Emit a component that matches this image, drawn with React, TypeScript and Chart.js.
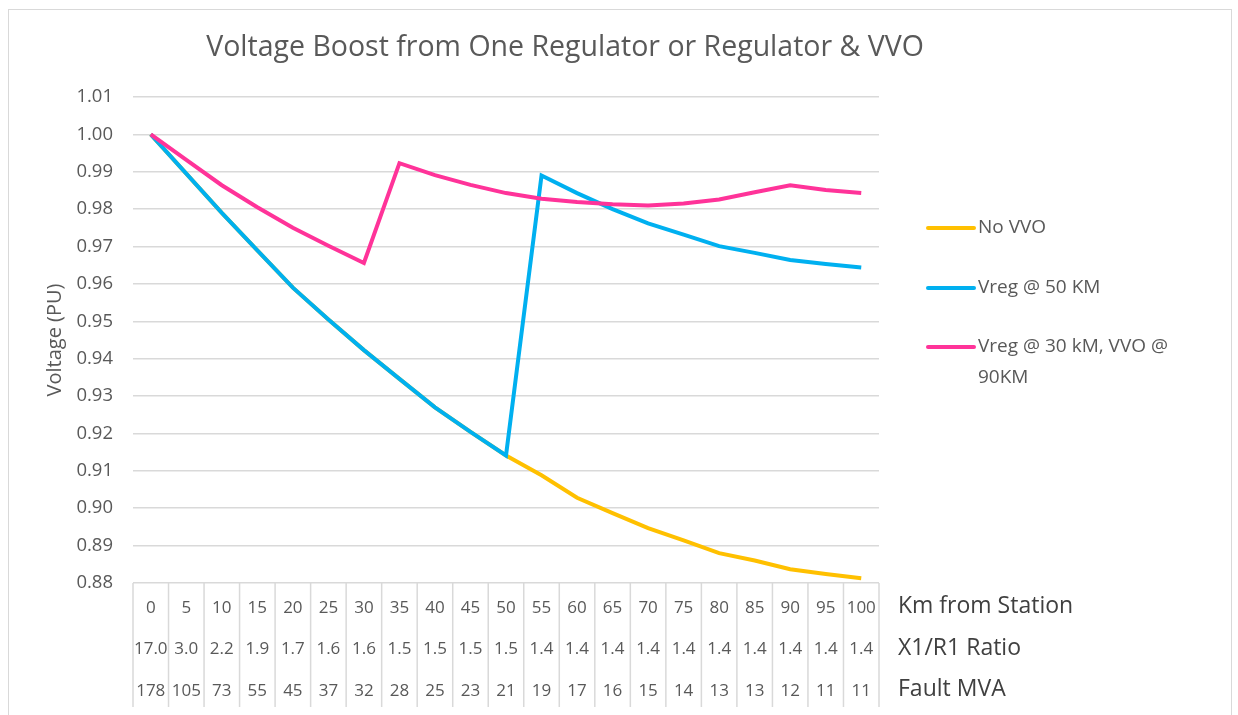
import React, { useEffect, useRef } from 'react';
import { Chart, registerables } from 'chart.js';

Chart.register(...registerables);

const kmLabels = ['0', '5', '10', '15', '20', '25', '30', '35', '40', '45', '50', '55', '60', '65', '70', '75', '80', '85', '90', '95', '100'];
const ratioLabels = ['17.0', '3.0', '2.2', '1.9', '1.7', '1.6', '1.6', '1.5', '1.5', '1.5', '1.5', '1.4', '1.4', '1.4', '1.4', '1.4', '1.4', '1.4', '1.4', '1.4', '1.4'];
const mvaLabels = ['178', '105', '73', '55', '45', '37', '32', '28', '25', '23', '21', '19', '17', '16', '15', '14', '13', '13', '12', '11', '11'];
const rowTitles = ['Km from Station', 'X1/R1 Ratio', 'Fault MVA'];

const noVvo = [1.0, 0.9895, 0.979, 0.969, 0.959, 0.9505, 0.9423, 0.9346, 0.927, 0.9204, 0.9141, 0.9088, 0.9028, 0.8987, 0.8947, 0.8914, 0.888, 0.886, 0.8837, 0.8824, 0.8813];
const vreg50 = [1.0, 0.9895, 0.979, 0.969, 0.959, 0.9505, 0.9423, 0.9346, 0.927, 0.9204, 0.9141, 0.989, 0.9843, 0.98, 0.9762, 0.9732, 0.9701, 0.9683, 0.9664, 0.9653, 0.9644];
const vreg30Vvo90 = [1.0, 0.9932, 0.9864, 0.9805, 0.975, 0.9702, 0.9656, 0.9923, 0.9891, 0.9865, 0.9843, 0.9828, 0.9819, 0.9813, 0.981, 0.9815, 0.9826, 0.9845, 0.9864, 0.9851, 0.9843];

const seriesNames = ['No VVO', 'Vreg @ 50 KM', 'Vreg @ 30 kM, VVO @ 90KM'];
const seriesColors = ['#FFC000', '#00B0F0', '#FF3399'];
const legendLines = [['No VVO'], ['Vreg @ 50 KM'], ['Vreg @ 30 kM, VVO @', '90KM']];
const titleText = 'Voltage Boost from One Regulator or Regulator & VVO';
const yTitleText = 'Voltage (PU)';

const FONT = '"Open Sans", "DejaVu Sans", sans-serif';
const TEXT = '#595959';
const GRID = '#d9d9d9';

const decorPlugin = {
  id: 'decor',
  afterDraw(chart: any) {
    const { ctx, chartArea } = chart;
    ctx.save();
    // title
    ctx.fillStyle = TEXT;
    ctx.font = `28.5px ${FONT}`;
    ctx.textAlign = 'center';
    ctx.textBaseline = 'middle';
    ctx.fillText(titleText, 565, 48);

    // data-table vertical lines
    const n = kmLabels.length;
    const w = (chartArea.right - chartArea.left) / n;
    ctx.strokeStyle = GRID;
    ctx.lineWidth = 1.5;
    for (let i = 0; i <= n; i++) {
      const x = chartArea.left + i * w;
      ctx.beginPath();
      ctx.moveTo(x, chartArea.bottom);
      ctx.lineTo(x, chartArea.bottom + 124);
      ctx.stroke();
    }

    // row titles
    ctx.fillStyle = '#404040';
    ctx.font = `23px ${FONT}`;
    ctx.textAlign = 'left';
    const rowY = [606, 648.5, 689];
    rowTitles.forEach((t, i) => ctx.fillText(t, chartArea.right + 19, rowY[i]));

    // legend
    const legY = [228, 288, 347];
    ctx.font = `19px ${FONT}`;
    ctx.lineCap = 'round';
    legendLines.forEach((lines, i) => {
      ctx.strokeStyle = seriesColors[i];
      ctx.lineWidth = 4;
      ctx.beginPath();
      ctx.moveTo(chartArea.right + 49, legY[i]);
      ctx.lineTo(chartArea.right + 95, legY[i]);
      ctx.stroke();
      ctx.fillStyle = TEXT;
      lines.forEach((l, j) => ctx.fillText(l, chartArea.right + 99, legY[i] + j * 31));
    });
    ctx.restore();
  },
};

export default function App() {
  const ref = useRef<HTMLCanvasElement | null>(null);

  useEffect(() => {
    if (!ref.current) return;
    const datasets = [noVvo, vreg50, vreg30Vvo90].map((d, i) => ({
      label: seriesNames[i],
      data: d,
      borderColor: seriesColors[i],
      backgroundColor: seriesColors[i],
      borderWidth: 4,
      pointRadius: 0,
      tension: 0,
      fill: false,
      order: 2 - i,
    }));
    const chart = new Chart(ref.current, {
      type: 'line',
      data: {
        labels: kmLabels.map((k, i) => [k, ratioLabels[i], mvaLabels[i]]),
        datasets,
      },
      plugins: [decorPlugin],
      options: {
        responsive: false,
        animation: false,
        layout: { padding: { top: 97, right: 359, bottom: 0, left: 0 } },
        plugins: {
          legend: { display: false },
          title: { display: false },
          tooltip: { enabled: false },
        },
        scales: {
          x: {
            offset: true,
            grid: { display: false },
            border: { display: false },
            ticks: {
              autoSkip: false,
              maxRotation: 0,
              padding: -4,
              color: TEXT,
              font: { family: FONT, size: 17, lineHeight: 41.5 / 17 },
            },
            afterFit: (s: any) => {
              s.height = 132;
            },
          },
          y: {
            min: 0.88,
            max: 1.01,
            grid: { color: GRID, lineWidth: 1.5, drawTicks: false },
            border: { display: false },
            ticks: {
              stepSize: 0.01,
              padding: 20,
              color: TEXT,
              font: { family: FONT, size: 18.5 },
              callback: (v: any) => Number(v).toFixed(2),
            },
            title: {
              display: true,
              text: yTitleText,
              color: TEXT,
              font: { family: FONT, size: 20 },
              padding: { top: 43, bottom: 0 },
            },
            afterFit: (s: any) => {
              s.width = 133;
            },
          },
        },
      },
    });
    return () => chart.destroy();
  }, []);

  return (
    <div style={{ position: 'absolute', left: 0, top: 0, width: 1238, height: 715, overflow: 'hidden', background: '#fff' }}>
      <div
        style={{
          position: 'absolute',
          left: 8,
          top: 9,
          width: 1224,
          height: 800,
          border: '1.5px solid #d9d9d9',
          boxSizing: 'border-box',
        }}
      />
      <canvas ref={ref} width={1238} height={715} style={{ position: 'absolute', left: 0, top: 0 }} />
    </div>
  );
}
